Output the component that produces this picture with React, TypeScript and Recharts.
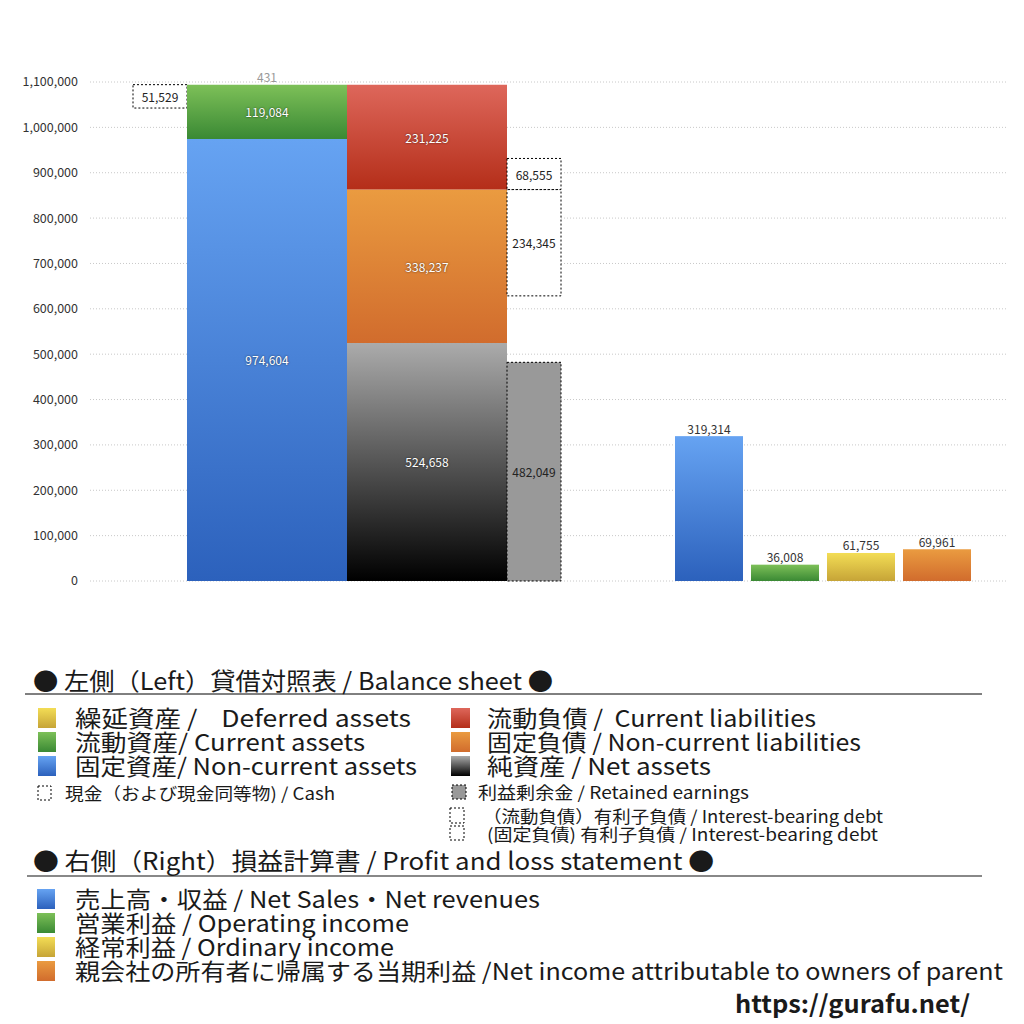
import { BarChart, Bar, XAxis, YAxis, CartesianGrid, LabelList } from "recharts";

// 貸借対照表 (左側)
const assetNames = ["固定資産", "流動資産", "繰延資産"];
const assetValues = [974604, 119084, 431];
const liabilityNames = ["純資産", "固定負債", "流動負債"];
const liabilityValues = [524658, 338237, 231225];
const cashValue = 51529;
const retainedEarnings = 482049;
// [固定負債の有利子負債, 流動負債の有利子負債]
const interestBearingDebt = [234345, 68555];

// 損益計算書 (右側)
const plNames = ["売上高", "営業利益", "経常利益", "当期利益"];
const plValues = [319314, 36008, 61755, 69961];

const yTicks = [0, 100000, 200000, 300000, 400000, 500000, 600000, 700000, 800000, 900000, 1000000, 1100000];

const totalAssets = assetValues.reduce((a, b) => a + b, 0);
const debtBase = liabilityValues[0] + liabilityValues[1] - interestBearingDebt[0];

const chartData = [
  {
    name: "BS",
    cashSpacer: totalAssets - cashValue,
    cash: cashValue,
    fixedAssets: assetValues[0],
    currentAssets: assetValues[1],
    deferredAssets: assetValues[2],
    netAssets: liabilityValues[0],
    nonCurrentLiab: liabilityValues[1],
    currentLiab: liabilityValues[2],
    retained: retainedEarnings,
    debtSpacer: debtBase - retainedEarnings,
    nonCurrentDebt: interestBearingDebt[0],
    currentDebt: interestBearingDebt[1],
  },
  {
    name: "PL",
    sales: plValues[0],
    operating: plValues[1],
    ordinary: plValues[2],
    netIncome: plValues[3],
  },
];

const FONT = '"Noto Sans CJK JP", "Noto Sans", sans-serif';
const fmt = (v: any) => (v == null || v === 0 ? "" : Number(v).toLocaleString("en-US"));

const makeLabel = (color: string, shadow: boolean, where: "center" | "top") => (props: any) => {
  const vb = props.viewBox || props;
  const { x, y, width, height } = vb;
  const { value } = props;
  if (value == null || value === 0 || x == null) return null;
  const cy = where === "center" ? y + height / 2 : y - 8;
  return (
    <text
      x={x + width / 2}
      y={cy}
      textAnchor="middle"
      dominantBaseline="central"
      fill={color}
      fontSize={12}
      fontFamily={FONT}
      style={shadow ? { textShadow: "0 0 2px rgba(0,0,0,0.7)" } : undefined}
    >
      {fmt(value)}
    </text>
  );
};

const plShape = (props: any) => {
  const { x, y, width, height, fill } = props;
  if (!height || height <= 0) return null;
  return <rect x={x + 4} y={y} width={width - 8} height={height} fill={fill} />;
};

const gradients: [string, string, string][] = [
  ["gBlue", "#66a3f2", "#2c61bc"],
  ["gGreen", "#7dc058", "#3a8934"],
  ["gYellow", "#f3dd55", "#c6a437"],
  ["gRed", "#de675b", "#b42e19"],
  ["gOrange", "#ea9b40", "#d16c2d"],
  ["gBlack", "#ababab", "#000000"],
];

const Defs = () => (
  <defs>
    {gradients.map(([id, top, bottom]) => (
      <linearGradient key={id} id={id} x1="0" y1="0" x2="0" y2="1">
        <stop offset="0%" stopColor={top} />
        <stop offset="100%" stopColor={bottom} />
      </linearGradient>
    ))}
  </defs>
);

const boxProps = { stroke: "#000", strokeWidth: 1, strokeDasharray: "2 2" };

type Item = { text: string; x: number; cy: number; len: number; size: number; bold?: boolean };

const legendTexts: Item[] = [
  { text: "● 左側（Left）貸借対照表 / Balance sheet ●", x: 33, cy: 679, len: 520, size: 24 },
  { text: "繰延資産 /    Deferred assets", x: 75, cy: 717, len: 336, size: 23 },
  { text: "流動資産/ Current assets", x: 75, cy: 741, len: 290, size: 23 },
  { text: "固定資産/ Non-current assets", x: 75, cy: 765, len: 342, size: 23 },
  { text: "流動負債 /  Current liabilities", x: 487, cy: 717, len: 329, size: 23 },
  { text: "固定負債 / Non-current liabilities", x: 487, cy: 741, len: 374, size: 23 },
  { text: "純資産 / Net assets", x: 487, cy: 765, len: 224, size: 23 },
  { text: "現金（および現金同等物) / Cash", x: 65, cy: 792, len: 270, size: 17 },
  { text: "利益剰余金 / Retained earnings", x: 478, cy: 791, len: 271, size: 17 },
  { text: "（流動負債）有利子負債 / Interest-bearing debt", x: 483, cy: 815, len: 400, size: 17 },
  { text: "(固定負債) 有利子負債 / Interest-bearing debt", x: 487, cy: 833, len: 391, size: 17 },
  { text: "● 右側（Right）損益計算書 / Profit and loss statement ●", x: 33, cy: 859, len: 681, size: 24 },
  { text: "売上高・収益 / Net Sales・Net revenues", x: 75, cy: 898, len: 465, size: 23 },
  { text: "営業利益 / Operating income", x: 75, cy: 922, len: 334, size: 23 },
  { text: "経常利益 / Ordinary income", x: 75, cy: 946, len: 319, size: 23 },
  { text: "親会社の所有者に帰属する当期利益 /Net income attributable to owners of parent", x: 75, cy: 970, len: 928, size: 23 },
  { text: "https://gurafu.net/", x: 735, cy: 1002, len: 235, size: 24, bold: true },
];

const legendSquares: [number, number, number, number, string, boolean][] = [
  [38, 708, 18, 20, "url(#gYellow)", false],
  [38, 732, 18, 20, "url(#gGreen)", false],
  [38, 756, 18, 20, "url(#gBlue)", false],
  [451, 708, 19, 20, "url(#gRed)", false],
  [451, 732, 19, 20, "url(#gOrange)", false],
  [451, 756, 19, 20, "url(#gBlack)", false],
  [38, 786, 13, 14, "#fff", true],
  [452, 785, 14, 14, "#999", true],
  [450, 808, 14, 15, "#fff", true],
  [450, 826, 14, 14, "#fff", true],
  [37, 889, 18, 20, "url(#gBlue)", false],
  [37, 913, 18, 20, "url(#gGreen)", false],
  [37, 937, 18, 20, "url(#gYellow)", false],
  [37, 961, 18, 20, "url(#gOrange)", false],
];

const LegendLayer = () => (
  <svg width={1024} height={1024} style={{ position: "absolute", left: 0, top: 0, pointerEvents: "none" }}>
    <line x1={25} x2={982} y1={694} y2={694} stroke="#000" strokeWidth={1} />
    <line x1={27} x2={982} y1={876} y2={876} stroke="#888" strokeWidth={2} />
    {legendSquares.map(([x, y, w, h, fill, dotted], i) => (
      <rect
        key={i}
        x={x}
        y={y}
        width={w}
        height={h}
        fill={fill}
        {...(dotted ? boxProps : {})}
      />
    ))}
    {legendTexts.map((t, i) => (
      <text
        key={i}
        x={t.x}
        y={t.cy}
        dominantBaseline="central"
        fontSize={t.size}
        fontFamily={FONT}
        fontWeight={t.bold ? 700 : 400}
        fill="#1a1a1a"
        textLength={t.len}
        lengthAdjust="spacingAndGlyphs"
        style={{ whiteSpace: "pre" }}
      >
        {t.text}
      </text>
    ))}
  </svg>
);

export default function App() {
  return (
    <div style={{ position: "absolute", left: 0, top: 0, width: 1024, height: 1024, background: "#fff" }}>
      <BarChart
        width={1024}
        height={600}
        data={chartData}
        margin={{ top: 82, right: 18, bottom: 19, left: 0 }}
        barGap={0}
        style={{ fontFamily: FONT }}
      >
        <Defs />
        <CartesianGrid vertical={false} stroke="#c8c8c8" strokeDasharray="1 2" />
        <XAxis xAxisId="bs" dataKey="name" hide padding={{ left: 37, right: 0 }} />
        <XAxis xAxisId="pl" dataKey="name" hide padding={{ left: 184, right: 0 }} />
        <YAxis
          domain={[0, 1100000]}
          ticks={yTicks}
          interval={0}
          width={90}
          axisLine={false}
          tickLine={false}
          tickSize={0}
          tickMargin={12}
          tick={{ fontSize: 12.5, fill: "#333", fontFamily: FONT }}
          tickFormatter={(v) => Number(v).toLocaleString("en-US")}
        />

        {/* 現金 */}
        <Bar xAxisId="bs" dataKey="cashSpacer" stackId="cash" barSize={54} fill="transparent" isAnimationActive={false} />
        <Bar xAxisId="bs" dataKey="cash" stackId="cash" barSize={54} fill="#fff" {...boxProps} isAnimationActive={false}>
          <LabelList dataKey="cash" content={makeLabel("#222", false, "center")} />
        </Bar>

        {/* 資産 */}
        <Bar xAxisId="bs" dataKey="fixedAssets" name={assetNames[0]} stackId="asset" barSize={160} fill="url(#gBlue)" isAnimationActive={false}>
          <LabelList dataKey="fixedAssets" content={makeLabel("#fff", true, "center")} />
        </Bar>
        <Bar xAxisId="bs" dataKey="currentAssets" name={assetNames[1]} stackId="asset" barSize={160} fill="url(#gGreen)" isAnimationActive={false}>
          <LabelList dataKey="currentAssets" content={makeLabel("#fff", true, "center")} />
        </Bar>
        <Bar xAxisId="bs" dataKey="deferredAssets" name={assetNames[2]} stackId="asset" barSize={160} fill="url(#gYellow)" isAnimationActive={false}>
          <LabelList dataKey="deferredAssets" content={makeLabel("#999", false, "top")} />
        </Bar>

        {/* 負債・純資産 */}
        <Bar xAxisId="bs" dataKey="netAssets" name={liabilityNames[0]} stackId="liab" barSize={160} fill="url(#gBlack)" isAnimationActive={false}>
          <LabelList dataKey="netAssets" content={makeLabel("#fff", true, "center")} />
        </Bar>
        <Bar xAxisId="bs" dataKey="nonCurrentLiab" name={liabilityNames[1]} stackId="liab" barSize={160} fill="url(#gOrange)" isAnimationActive={false}>
          <LabelList dataKey="nonCurrentLiab" content={makeLabel("#fff", true, "center")} />
        </Bar>
        <Bar xAxisId="bs" dataKey="currentLiab" name={liabilityNames[2]} stackId="liab" barSize={160} fill="url(#gRed)" isAnimationActive={false}>
          <LabelList dataKey="currentLiab" content={makeLabel("#fff", true, "center")} />
        </Bar>

        {/* 利益剰余金・有利子負債 */}
        <Bar xAxisId="bs" dataKey="retained" stackId="box" barSize={54} fill="#999" {...boxProps} isAnimationActive={false}>
          <LabelList dataKey="retained" content={makeLabel("#222", false, "center")} />
        </Bar>
        <Bar xAxisId="bs" dataKey="debtSpacer" stackId="box" barSize={54} fill="transparent" isAnimationActive={false} />
        <Bar xAxisId="bs" dataKey="nonCurrentDebt" stackId="box" barSize={54} fill="#fff" {...boxProps} isAnimationActive={false}>
          <LabelList dataKey="nonCurrentDebt" content={makeLabel("#222", false, "center")} />
        </Bar>
        <Bar xAxisId="bs" dataKey="currentDebt" stackId="box" barSize={54} fill="#fff" {...boxProps} isAnimationActive={false}>
          <LabelList dataKey="currentDebt" content={makeLabel("#222", false, "center")} />
        </Bar>

        {/* 損益計算書 */}
        <Bar xAxisId="pl" dataKey="sales" name={plNames[0]} barSize={76} fill="url(#gBlue)" shape={plShape} isAnimationActive={false}>
          <LabelList dataKey="sales" content={makeLabel("#333", false, "top")} />
        </Bar>
        <Bar xAxisId="pl" dataKey="operating" name={plNames[1]} barSize={76} fill="url(#gGreen)" shape={plShape} isAnimationActive={false}>
          <LabelList dataKey="operating" content={makeLabel("#333", false, "top")} />
        </Bar>
        <Bar xAxisId="pl" dataKey="ordinary" name={plNames[2]} barSize={76} fill="url(#gYellow)" shape={plShape} isAnimationActive={false}>
          <LabelList dataKey="ordinary" content={makeLabel("#333", false, "top")} />
        </Bar>
        <Bar xAxisId="pl" dataKey="netIncome" name={plNames[3]} barSize={76} fill="url(#gOrange)" shape={plShape} isAnimationActive={false}>
          <LabelList dataKey="netIncome" content={makeLabel("#333", false, "top")} />
        </Bar>
      </BarChart>
      <LegendLayer />
    </div>
  );
}
